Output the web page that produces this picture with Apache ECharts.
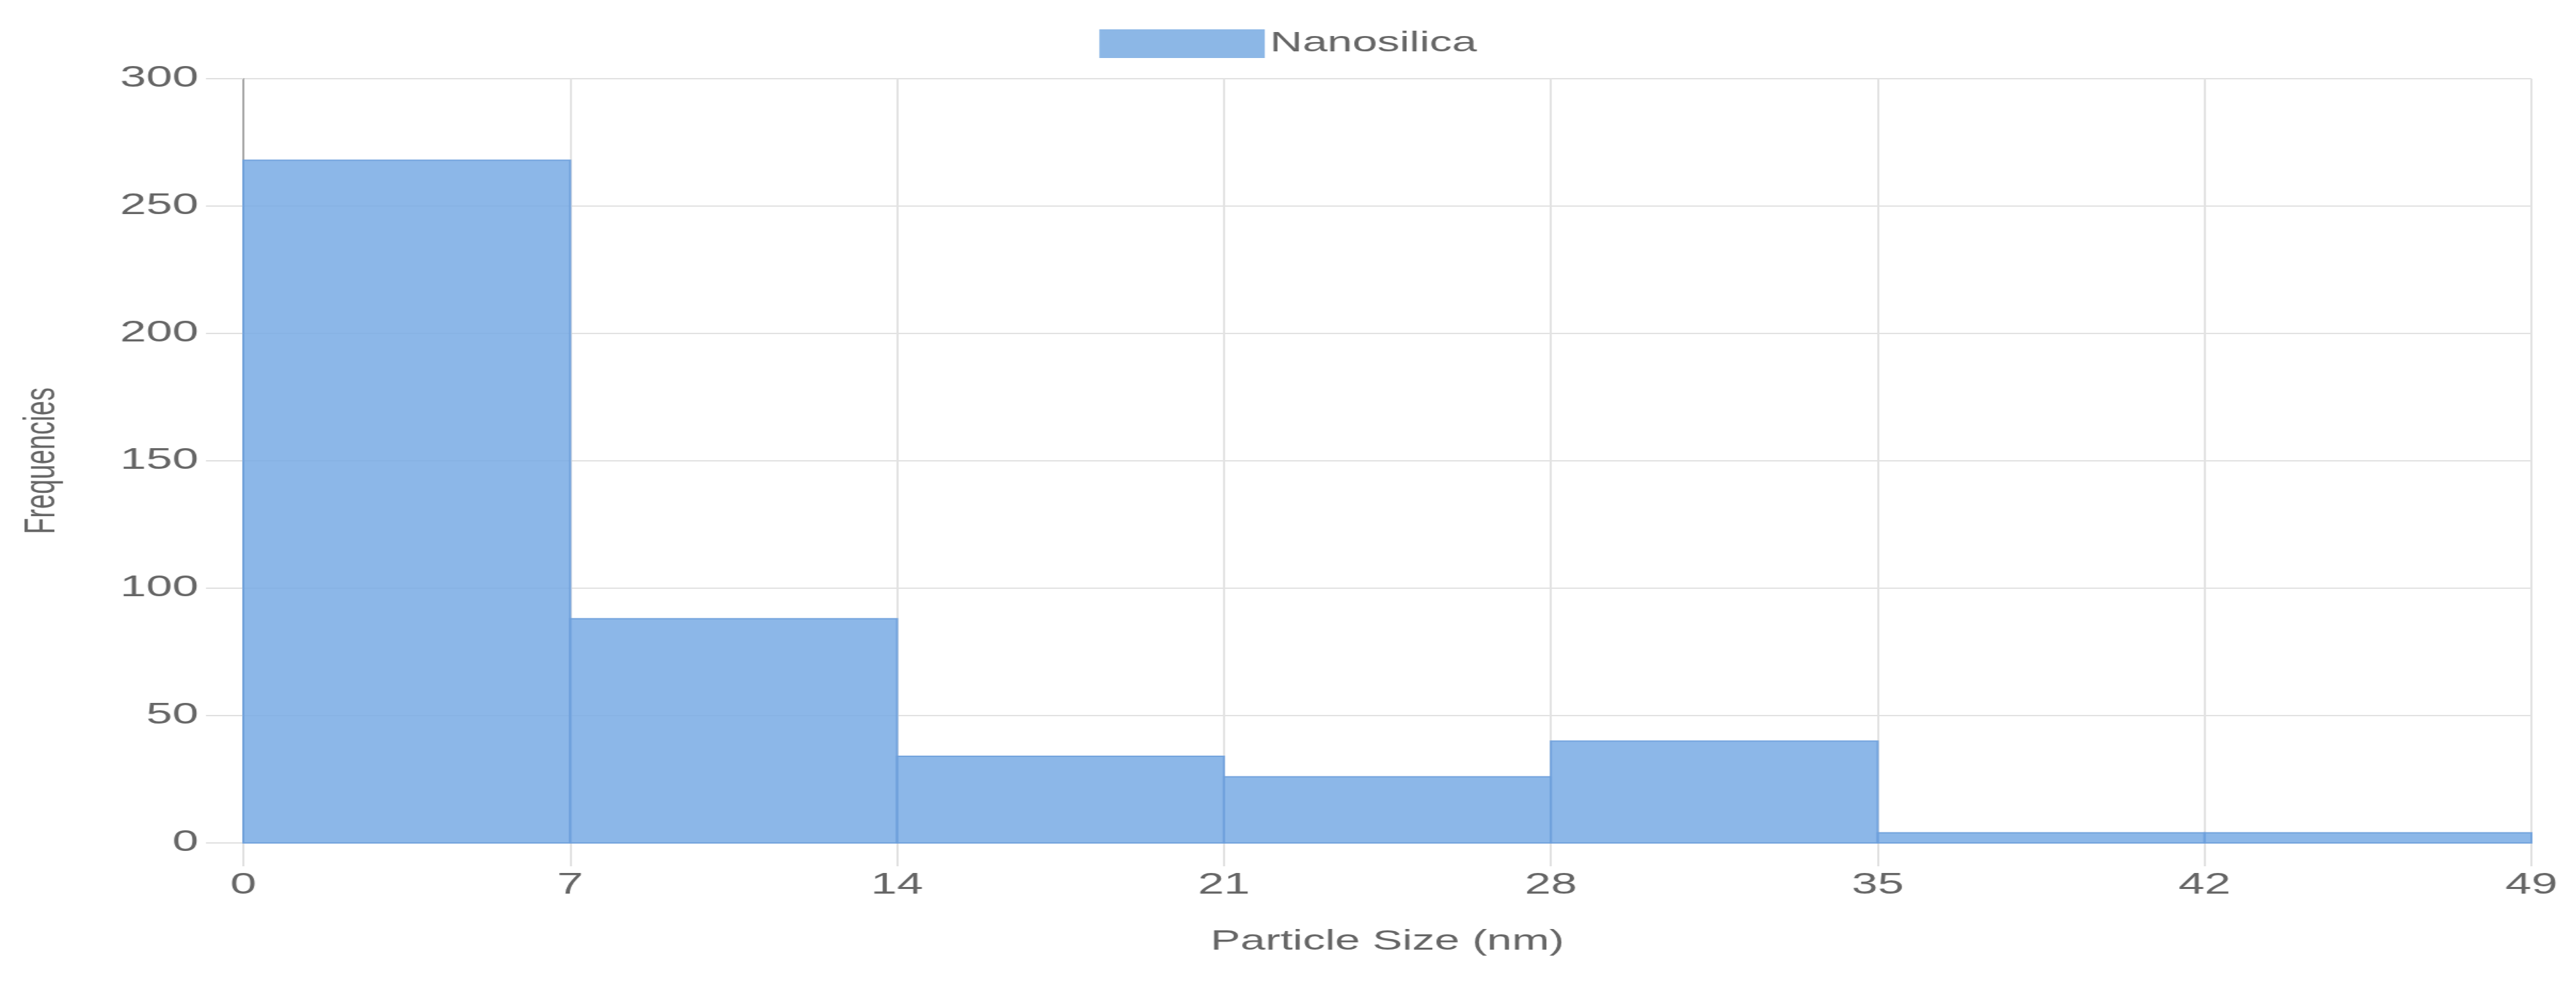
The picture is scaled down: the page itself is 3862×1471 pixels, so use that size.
<!DOCTYPE html>
<html><head><meta charset="utf-8">
<script src="https://cdn.jsdelivr.net/npm/echarts@6/dist/echarts.min.js"></script>
<style>
html,body{margin:0;padding:0;background:#fff;overflow:hidden;}
#wrap{width:3862px;height:1471px;overflow:hidden;}
#c{width:2414px;height:1471px;transform:scaleX(1.6);transform-origin:0 0;}
</style></head><body>
<div id="wrap"><div id="c"></div></div>
<script>
const binStarts = [0, 7, 14, 21, 28, 35, 42];
const binEnds = [7, 14, 21, 28, 35, 42, 49];
const frequencies = [268, 88, 34, 26, 40, 4, 4];
const xTicks = [0, 7, 14, 21, 28, 35, 42, 49];
const yTicks = [0, 50, 100, 150, 200, 250, 300];
const seriesName = 'Nanosilica';

const data = binStarts.map((s, i) => [s, binEnds[i], frequencies[i]]);
const chart = echarts.init(document.getElementById('c'));
const font = '"Liberation Sans", Arial, sans-serif';
chart.setOption({
  animation: false,
  legend: {
    top: 39, left: 'center', itemWidth: 155, itemHeight: 43, itemGap: 10,
    textStyle: {fontFamily: font, fontSize: 42, color: '#666'},
    data: [{name: seriesName, icon: 'rect'}]
  },
  grid: {left: 228, right: 42, top: 118, bottom: 207},
  xAxis: {
    type: 'value', min: 0, max: 49, interval: 7,
    name: 'Particle Size (nm)', nameLocation: 'middle', nameGap: 127,
    nameTextStyle: {fontFamily: font, fontSize: 42, color: '#666'},
    axisLine: {show: false},
    axisTick: {show: true, length: 35, lineStyle: {color: '#e0e0e0', width: 2}},
    axisLabel: {fontFamily: font, fontSize: 44, color: '#666', margin: 42},
    splitLine: {show: true, lineStyle: {color: '#e2e2e2', width: 2}}
  },
  yAxis: {
    type: 'value', min: 0, max: 300, interval: 50,
    name: 'Frequencies', nameLocation: 'middle', nameGap: 168,
    nameTextStyle: {fontFamily: font, fontSize: 40, color: '#666'},
    axisLine: {show: true, lineStyle: {color: '#a8a8a8', width: 2}},
    axisTick: {show: true, length: 35, lineStyle: {color: '#e0e0e0', width: 2}},
    axisLabel: {fontFamily: font, fontSize: 44, color: '#666', margin: 42},
    splitLine: {show: true, lineStyle: {color: '#e2e2e2', width: 2}}
  },
  series: [{
    name: seriesName, type: 'custom',
    itemStyle: {color: '#8cb7e6'},
    encode: {x: [0, 1], y: 2},
    renderItem: function (params, api) {
      const p0 = api.coord([api.value(0), api.value(2)]);
      const p1 = api.coord([api.value(1), 0]);
      return {
        type: 'rect',
        shape: {x: p0[0], y: p0[1], width: p1[0] - p0[0], height: p1[1] - p0[1]},
        style: {fill: 'rgba(120,170,228,0.85)', stroke: 'rgba(110,160,220,0.9)', lineWidth: 2}
      };
    },
    data: data
  }]
});
</script></body></html>
